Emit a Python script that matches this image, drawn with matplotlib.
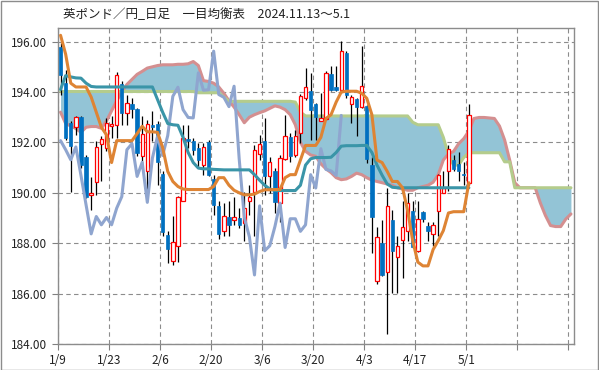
import numpy as np
import matplotlib.pyplot as plt
from matplotlib.patches import Rectangle

plt.rcParams['font.family'] = ['Noto Sans CJK JP', 'DejaVu Sans']

# 日足 (1/9 ~ 5/1)
opens = [195.79, 194.36, 192.77, 192.60, 193.00, 191.44, 189.93, 190.41, 191.92, 191.77,
         192.64, 192.70, 194.32, 193.15, 193.52, 193.33, 191.48, 190.85, 192.68, 192.73,
         190.74, 188.34, 187.31, 187.87, 189.66, 192.12, 192.04, 191.78, 191.11, 192.02,
         190.56, 189.46, 188.47, 189.03, 188.93, 188.99, 188.80, 189.66, 190.05, 191.54,
         192.04, 190.65, 190.85, 189.59, 191.35, 192.20, 191.51, 192.37, 193.76, 194.03,
         193.52, 192.86, 192.94, 194.72, 194.20, 194.08, 195.55, 193.52, 193.72, 193.39,
         193.43, 191.11, 186.50, 188.00, 186.87, 188.92, 187.45, 188.13, 188.47, 189.26,
         187.70, 189.23, 188.70, 188.37, 189.29, 190.01, 190.85, 191.31, 191.14, 190.74,
         190.37]
highs = [195.95, 194.89, 192.84, 193.03, 193.03, 191.51, 190.61, 192.04, 192.24, 192.97,
         193.03, 194.80, 194.42, 193.89, 193.76, 193.37, 193.03, 192.90, 193.23, 192.84,
         190.85, 188.47, 189.06, 189.86, 192.70, 192.70, 192.17, 191.97, 191.97, 192.11,
         190.72, 189.66, 189.59, 189.66, 189.85, 189.39, 190.03, 190.32, 191.91, 192.30,
         192.97, 191.44, 190.98, 191.51, 193.07, 192.37, 192.50, 193.92, 194.95, 194.76,
         193.56, 193.96, 194.85, 195.02, 195.02, 196.01, 195.62, 193.89, 193.76, 195.82,
         193.50, 191.44, 188.66, 188.93, 190.19, 189.30, 188.30, 189.66, 189.99, 189.68,
         189.66, 189.28, 188.84, 188.86, 190.74, 190.85, 191.91, 191.51, 191.62, 191.24,
         193.52]
lows = [193.90, 192.10, 190.05, 192.30, 191.00, 189.80, 189.33, 189.92, 190.48, 191.64,
        192.17, 192.17, 192.70, 192.70, 192.97, 191.45, 191.11, 189.79, 192.04, 190.32,
        188.30, 187.20, 187.14, 187.27, 189.66, 191.78, 191.51, 190.98, 190.72, 190.65,
        189.13, 188.17, 188.27, 188.27, 188.73, 188.60, 188.07, 189.13, 188.27, 191.31,
        189.92, 189.99, 189.19, 188.86, 191.31, 191.24, 191.44, 191.97, 193.70, 192.11,
        192.11, 192.83, 192.90, 194.03, 194.03, 193.96, 193.76, 192.77, 192.24, 193.36,
        191.18, 187.60, 186.40, 186.68, 184.38, 186.01, 186.01, 186.61, 188.07, 187.80,
        187.64, 188.86, 188.07, 187.87, 188.27, 189.99, 190.08, 190.85, 190.45, 190.32,
        190.32]
closes = [194.66, 192.17, 191.84, 192.99, 191.11, 189.85, 190.01, 191.80, 192.14, 192.77,
          192.74, 194.69, 193.17, 193.55, 193.34, 191.58, 192.33, 192.74, 192.62, 191.22,
          188.44, 187.76, 188.03, 189.82, 192.17, 192.07, 191.71, 191.31, 191.82, 190.69,
          189.52, 188.37, 189.06, 188.73, 189.02, 188.73, 189.39, 189.85, 191.71, 191.95,
          190.65, 191.21, 189.62, 191.38, 192.24, 191.48, 192.27, 193.83, 194.19, 193.30,
          192.99, 192.97, 194.76, 194.07, 194.09, 195.62, 193.90, 193.79, 193.42, 194.23,
          191.35, 189.03, 188.25, 186.74, 189.48, 187.70, 187.90, 188.66, 189.59, 187.83,
          188.97, 188.97, 188.47, 188.73, 190.72, 190.19, 191.75, 190.93, 190.87, 190.69,
          193.07]

# 転換線
tenkan = [196.25, 195.50, 194.35, 194.20, 194.20, 194.20, 193.80, 193.20, 192.60, 192.30,
          191.20, 192.07, 192.07, 192.07, 192.07, 192.35, 192.64, 192.42, 192.42, 192.40,
          191.80, 190.85, 190.45, 190.25, 190.15, 190.13, 190.13, 190.13, 190.13, 190.13,
          190.25, 190.60, 190.60, 190.30, 190.10, 190.00, 189.92, 189.92, 189.95, 190.05,
          190.12, 190.12, 190.13, 190.13, 190.60, 190.72, 190.72, 191.30, 191.88, 191.88,
          191.88, 192.20, 192.95, 193.10, 193.60, 194.00, 194.03, 194.03, 194.03, 193.95,
          193.75, 193.10, 191.30, 191.20, 190.85, 190.45, 190.45, 190.20, 189.30, 188.10,
          187.25, 187.10, 187.10, 187.75, 188.10, 188.50, 189.20, 189.25, 189.25, 189.25,
          190.40]
# 基準線
kijun = [194.10, 194.65, 194.60, 194.56, 194.55, 194.35, 194.22, 194.20, 194.20, 194.20,
         194.20, 194.20, 194.20, 194.20, 194.20, 194.20, 194.20, 194.20, 194.20, 193.70,
         193.20, 192.75, 192.70, 192.68, 192.20, 191.60, 191.20, 190.98, 190.95, 190.95,
         190.93, 190.92, 190.91, 190.91, 190.91, 190.91, 190.91, 190.91, 190.72, 190.50,
         190.30, 190.15, 190.09, 190.09, 190.09, 190.09, 190.09, 190.30, 191.10, 191.35,
         191.40, 191.40, 191.40, 191.41, 191.60, 191.85, 191.87, 191.87, 191.87, 191.88,
         191.88, 191.60, 191.10, 190.70, 190.35, 190.22, 190.20, 190.20, 190.20, 190.20,
         190.20, 190.20, 190.20, 190.20, 190.20, 190.20, 190.20, 190.20, 190.20, 190.20,
         190.20]
# 先行スパンA
span_a = [194.02] * 27 + [193.97] * 5 + [193.80] + [193.63] * 13 + [193.60, 193.20] + \
         [193.05] * 21 + [192.80] + [192.70] * 5 + [192.20, 191.50, 191.10, 191.10, 191.40] + \
         [191.59] * 7 + [191.23] * 2 + [190.20] * 12
# 先行スパンB
span_b = [193.20, 192.75, 192.65, 192.55, 192.40, 192.60, 192.63, 192.63, 192.56, 192.85,
          193.25, 193.65, 194.00, 194.30, 194.50, 194.70, 194.82, 194.95, 195.00, 195.05,
          195.08, 195.08, 195.08, 195.10, 195.10, 195.12, 195.21, 195.05, 194.45, 194.42,
          194.35, 194.20, 193.95, 193.65, 193.40, 193.10, 192.78, 193.00, 193.10, 193.18,
          193.25, 193.35, 193.45, 193.40, 193.30, 193.10, 192.70, 192.00, 191.65, 191.50,
          191.45, 191.15, 190.95, 190.80, 190.60, 190.52, 190.55, 190.65, 190.78, 190.72,
          190.60, 190.50, 190.45, 190.40, 190.35, 190.30, 190.20, 190.15, 190.10, 190.10,
          190.20, 190.25, 190.30, 190.42, 190.72, 191.30, 191.55, 191.64, 191.95, 192.15,
          192.45, 192.95, 192.99, 192.99, 192.97, 192.95, 192.65, 192.10, 191.30, 190.40,
          190.20, 190.20, 190.20, 190.20, 189.60, 189.10, 188.70, 188.66, 188.66, 188.96,
          189.16]
# 遅行スパン
chikou = [192.07, 191.71, 191.31, 191.82, 190.69, 189.52, 188.37, 189.06, 188.73, 189.02,
          188.73, 189.39, 189.85, 191.71, 191.95, 190.65, 191.21, 189.62, 191.38, 192.24,
          191.48, 192.27, 193.83, 194.19, 193.30, 192.99, 192.97, 194.76, 194.07, 194.09,
          195.62, 193.90, 193.79, 193.42, 194.23, 191.35, 189.03, 188.25, 186.74, 189.48,
          187.70, 187.90, 188.66, 189.59, 187.83, 188.97, 188.97, 188.47, 188.73, 190.72,
          190.19, 191.75, 190.93, 190.87, 190.69, 193.07]

tick_labels = ['1/9', '1/23', '2/6', '2/20', '3/6', '3/20', '4/3', '4/17', '5/1', '', '']

fig = plt.figure(figsize=(5.99, 3.70), dpi=100)
ax = fig.add_axes([58 / 599, 1 - 344 / 370, (574 - 58) / 599, (344 - 28) / 370])

line_kw = dict(lw=2.2, solid_joinstyle='round', solid_capstyle='round')

x_span = np.arange(len(span_a))
ax.fill_between(x_span, span_a, span_b, color='#93C4D6', lw=0, zorder=1)
ax.plot(x_span, span_b, color='#D48F90', zorder=2, **line_kw)
ax.plot(x_span, span_a, color='#B4CC8C', zorder=2, **line_kw)

# ローソク足
for i, (o, h, l, c) in enumerate(zip(opens, highs, lows, closes)):
    ax.vlines(i, l, h, color='black', lw=0.9, zorder=3)
    body = max(abs(c - o), 0.04)
    if c >= o:
        ax.add_patch(Rectangle((i - 0.33, o), 0.66, body, facecolor='white',
                               edgecolor='#FF0000', lw=0.9, zorder=4))
    else:
        ax.add_patch(Rectangle((i - 0.33, c), 0.66, body, facecolor='#0070C0',
                               edgecolor='#0070C0', lw=0.5, zorder=4))

ax.plot(np.arange(len(chikou)), chikou, color='#8FA5CF', zorder=5, **line_kw)
ax.plot(np.arange(len(kijun)), kijun, color='#3A95A8', zorder=5, **line_kw)
ax.plot(np.arange(len(tenkan)), tenkan, color='#DE8434', zorder=5, **line_kw)

ax.set_xlim(-0.5, 100.6)
ax.set_ylim(184, 196.54)
ax.set_xticks(np.arange(-0.5, 100, 10))
ax.set_xticklabels(tick_labels)
ax.set_yticks(np.arange(184, 196.1, 2))
ax.set_yticklabels([f'{v:.2f}' for v in np.arange(184, 196.1, 2)])
ax.tick_params(axis='both', colors='#808080', labelcolor='#222222', labelsize=8.5,
               length=4, width=0.8)
ax.tick_params(axis='y', pad=4)
ax.tick_params(axis='x', pad=3)
ax.grid(True, color='#8C8C8C', linestyle=(0, (4, 3)), lw=0.8, zorder=0)
ax.set_axisbelow(True)
for s in ax.spines.values():
    s.set_color('#8C8C8C')
    s.set_linewidth(1)

fig.text(63 / 599, 1 - 15 / 370, '英ポンド／円_日足　一目均衡表　2024.11.13～5.1',
         fontsize=9, va='center', ha='left', color='#222222')
fig.patches.append(Rectangle((0.001, 0.001), 0.998, 0.997, transform=fig.transFigure,
                             fill=False, edgecolor='#8C8C8C', lw=1))

fig.savefig('out.png', dpi=100)
